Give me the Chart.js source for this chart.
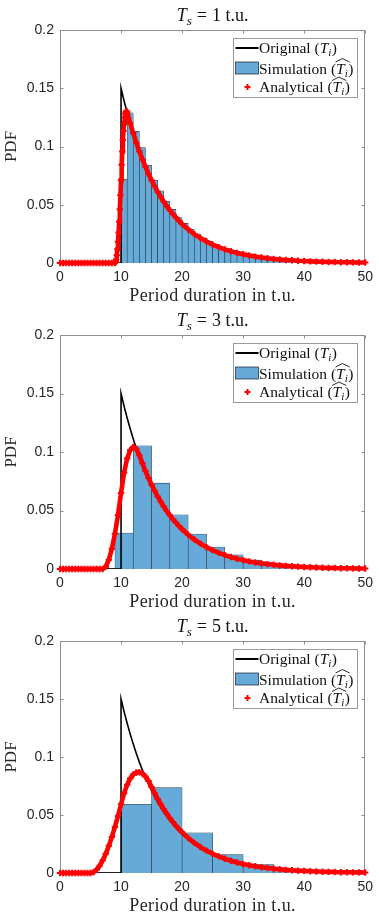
<!DOCTYPE html>
<html>
<head>
<meta charset="utf-8">
<script src="https://cdn.jsdelivr.net/npm/chart.js@4.4.1/dist/chart.umd.min.js"></script>
<style>
  html, body { margin: 0; padding: 0; background: #fff; }
  body { width: 379px; height: 919px; position: relative; overflow: hidden; }
  .panel { position: absolute; left: 0; width: 379px; }
</style>
</head>
<body>
<div class="panel" style="top:0;height:305px"><canvas id="c1"></canvas></div>
<div class="panel" style="top:305px;height:308px"><canvas id="c2"></canvas></div>
<div class="panel" style="top:613px;height:306px"><canvas id="c3"></canvas></div>

<script>
/* =========================
   Data
========================= */
const xTicks = [0, 10, 20, 30, 40, 50];
const yTicks = [0, 0.05, 0.1, 0.15, 0.2];
const yTickLabels = ["0", "0.05", "0.1", "0.15", "0.2"];
const samplingPeriods = [1, 3, 5];

// Original PDF (T_i)
const origX = [0, 10, 10, 10.5, 11, 11.5, 12, 12.5, 13, 13.5, 14, 15, 16, 17, 18, 19, 20, 22, 24, 26, 28, 30, 32, 35, 38, 41, 44, 47, 50];
const origY = [0, 0, 0.15, 0.1391, 0.1291, 0.1198, 0.1111, 0.1031, 0.0956, 0.0887, 0.0823, 0.0709, 0.0610, 0.0525, 0.0452, 0.0389, 0.0335, 0.0248, 0.0184, 0.0136, 0.0101, 0.0075, 0.0055, 0.0035, 0.0023, 0.0014, 0.0009, 0.0006, 0.0004];

// Ts = 1
const sim1Centers = [10.5, 11.5, 12.5, 13.5, 14.5, 15.5, 16.5, 17.5, 18.5, 19.5, 20.5, 21.5, 22.5, 23.5, 24.5, 25.5, 26.5, 27.5, 28.5, 29.5, 30.5, 31.5, 32.5, 33.5, 34.5, 35.5, 36.5, 37.5, 38.5, 39.5, 40.5, 41.5, 42.5, 43.5, 44.5, 45.5];
const sim1Heights = [0.072, 0.129, 0.113, 0.099, 0.084, 0.071, 0.062, 0.053, 0.046, 0.039, 0.034, 0.029, 0.025, 0.0215, 0.0185, 0.016, 0.0137, 0.0118, 0.0101, 0.0088, 0.0075, 0.0065, 0.0056, 0.0048, 0.0041, 0.0035, 0.0030, 0.0026, 0.0023, 0.0019, 0.0017, 0.0014, 0.0012, 0.0011, 0.0009, 0.0008];
const ana1X = [0, 0.5, 1, 1.5, 2, 2.5, 3, 3.5, 4, 4.5, 5, 5.5, 6, 6.5, 7, 7.5, 8, 8.5, 9,
  9.1, 9.2, 9.3, 9.4, 9.5, 9.6, 9.7, 9.8, 9.9, 10, 10.1, 10.2, 10.3, 10.4, 10.5, 10.6, 10.7, 10.8, 10.9, 11,
  11.5, 12, 12.5, 13, 13.5, 14, 14.5, 15, 15.5, 16, 16.5, 17, 17.5, 18, 18.5, 19, 19.5, 20,
  21, 22, 23, 24, 25, 26, 27, 28, 29, 30, 31, 32, 33, 34, 35, 36, 37, 38, 39, 40, 41, 42, 43, 44, 45, 46, 47, 48, 49, 50];
const ana1Y = [0, 0, 0, 0, 0, 0, 0, 0, 0, 0, 0, 0, 0, 0, 0, 0, 0, 0, 0,
  0.0008, 0.0030, 0.0067, 0.0118, 0.0183, 0.0262, 0.0355, 0.0461, 0.0581, 0.0713, 0.0844, 0.0958, 0.1055, 0.1136, 0.1200, 0.1249, 0.1283, 0.1300, 0.1303, 0.1294,
  0.1200, 0.1113, 0.1033, 0.0958, 0.0889, 0.0825, 0.0765, 0.0710, 0.0659, 0.0611, 0.0567, 0.0526, 0.0488, 0.0453, 0.0420, 0.0390, 0.0361, 0.0335,
  0.0289, 0.0248, 0.0214, 0.0184, 0.0158, 0.0136, 0.0117, 0.0101, 0.0087, 0.0075, 0.0064, 0.0055, 0.0048, 0.0041, 0.0035, 0.0030, 0.0026, 0.0023, 0.0019, 0.0017, 0.0014, 0.0012, 0.0011, 0.0009, 0.0008, 0.0007, 0.0006, 0.0005, 0.0004, 0.0004];

// Ts = 3
const sim2Centers = [10.5, 13.5, 16.5, 19.5, 22.5, 25.5, 28.5, 31.5, 34.5, 37.5, 40.5, 43.5, 46.5];
const sim2Heights = [0.0307, 0.1053, 0.0734, 0.0464, 0.0299, 0.0188, 0.0122, 0.0076, 0.0048, 0.0031, 0.0020, 0.0013, 0.0008];
const ana2X = [0, 0.5, 1, 1.5, 2, 2.5, 3, 3.5, 4, 4.5, 5, 5.5, 6, 6.5, 7,
  7.5, 8, 8.5, 9, 9.5, 10, 10.5, 11, 11.5, 12, 12.5, 13, 13.5, 14, 14.5, 15, 15.5, 16, 16.5, 17, 17.5, 18, 18.5, 19, 19.5, 20,
  21, 22, 23, 24, 25, 26, 27, 28, 29, 30, 31, 32, 33, 34, 35, 36, 37, 38, 39, 40, 41, 42, 43, 44, 45, 46, 47, 48, 49, 50];
const ana2Y = [0, 0, 0, 0, 0, 0, 0, 0, 0, 0, 0, 0, 0, 0, 0,
  0.0020, 0.0079, 0.0174, 0.0302, 0.0461, 0.0649, 0.0823, 0.0944, 0.1016, 0.1043, 0.1027, 0.0973, 0.0903, 0.0837, 0.0777, 0.0721, 0.0669, 0.0620, 0.0575, 0.0534, 0.0495, 0.0460, 0.0426, 0.0395, 0.0367, 0.0340,
  0.0293, 0.0252, 0.0217, 0.0187, 0.0161, 0.0138, 0.0119, 0.0103, 0.0088, 0.0076, 0.0065, 0.0056, 0.0048, 0.0042, 0.0036, 0.0031, 0.0027, 0.0023, 0.0020, 0.0017, 0.0015, 0.0013, 0.0011, 0.0009, 0.0008, 0.0007, 0.0006, 0.0005, 0.0004, 0.0004];

// Ts = 5
const sim3Centers = [12.5, 17.5, 22.5, 27.5, 32.5, 37.5, 42.5, 47.5];
const sim3Heights = [0.0593, 0.0736, 0.0347, 0.0158, 0.0072, 0.0034, 0.0016, 0.0007];
const ana3X = [0, 0.5, 1, 1.5, 2, 2.5, 3, 3.5, 4, 4.5, 5,
  5.5, 6, 6.5, 7, 7.5, 8, 8.5, 9, 9.5, 10, 10.5, 11, 11.5, 12, 12.5, 13, 13.5, 14, 14.5, 15, 15.5, 16, 16.5, 17, 17.5, 18, 18.5, 19, 19.5, 20,
  21, 22, 23, 24, 25, 26, 27, 28, 29, 30, 31, 32, 33, 34, 35, 36, 37, 38, 39, 40, 41, 42, 43, 44, 45, 46, 47, 48, 49, 50];
const ana3Y = [0, 0, 0, 0, 0, 0, 0, 0, 0, 0, 0,
  0.0007, 0.0029, 0.0063, 0.0109, 0.0166, 0.0234, 0.0311, 0.0397, 0.0491, 0.0593, 0.0687, 0.0760, 0.0814, 0.0849, 0.0867, 0.0869, 0.0857, 0.0831, 0.0793, 0.0742, 0.0689, 0.0639, 0.0593, 0.0550, 0.0510, 0.0473, 0.0439, 0.0407, 0.0378, 0.0351,
  0.0302, 0.0260, 0.0224, 0.0193, 0.0166, 0.0143, 0.0123, 0.0106, 0.0091, 0.0078, 0.0067, 0.0058, 0.0050, 0.0043, 0.0037, 0.0032, 0.0027, 0.0024, 0.0020, 0.0018, 0.0015, 0.0013, 0.0011, 0.0010, 0.0008, 0.0007, 0.0006, 0.0005, 0.0005, 0.0004];

/* =========================
   Styles
========================= */
const SERIF = '"Liberation Serif", "DejaVu Serif", serif';
const SANS = '"Liberation Sans", Arial, sans-serif';
const AXIS_COLOR = "#8e8e8e";
const TEXT_COLOR = "#262626";
const BAR_FILL = "rgb(102,170,215)";
const BAR_EDGE = "rgba(25,35,55,0.9)";
const RED = "#ff0000";

const toPoints = (xs, ys) => xs.map((x, i) => ({ x, y: ys[i] }));

// text built from parts (italic, subscript, hat)
function drawRich(ctx, parts, x, y, align) {
  let total = 0;
  parts.forEach(p => {
    ctx.font = p.font;
    p.w = ctx.measureText(p.t).width;
    total += p.w + (p.gap || 0);
  });
  let cx = align === "center" ? x - total / 2 : x;
  parts.forEach(p => {
    ctx.font = p.font;
    ctx.fillText(p.t, cx, y + (p.dy || 0));
    if (p.hat) {
      const top = y - 14.5;
      ctx.beginPath();
      ctx.moveTo(cx - 0.5, top + 3);
      ctx.lineTo(cx + p.w / 2 + 2, top - 0.5);
      ctx.lineTo(cx + p.w + 5, top + 3);
      ctx.lineWidth = 0.9;
      ctx.strokeStyle = ctx.fillStyle;
      ctx.stroke();
    }
    cx += p.w + (p.gap || 0);
  });
}

function mathLabel(word, hat) {
  return [
    { t: word + " (", font: `15.5px ${SERIF}` },
    { t: "T", font: `italic 15.5px ${SERIF}`, hat },
    { t: "i", font: `italic 11px ${SERIF}`, dy: 3, gap: 0.5 },
    { t: ")", font: `15.5px ${SERIF}` },
  ];
}

/* frame, inward ticks, labels, legend */
const decorPlugin = {
  id: "decor",
  beforeDatasetsDraw(chart) {
    const { ctx, chartArea: a, scales: { x, y } } = chart;
    ctx.save();
    ctx.strokeStyle = AXIS_COLOR;
    ctx.lineWidth = 1;
    const L = Math.round(a.left) + 0.5, R = Math.round(a.right) - 0.5;
    const T = Math.round(a.top) + 0.5, B = Math.round(a.bottom) - 0.5;
    ctx.strokeRect(L, T, R - L, B - T);
    ctx.beginPath();
    xTicks.forEach(v => {
      const px = Math.round(x.getPixelForValue(v)) + 0.5;
      ctx.moveTo(px, B); ctx.lineTo(px, B - 3);
      ctx.moveTo(px, T); ctx.lineTo(px, T + 3);
    });
    yTicks.forEach(v => {
      const py = Math.round(y.getPixelForValue(v)) + 0.5;
      ctx.moveTo(L, py); ctx.lineTo(L + 3, py);
      ctx.moveTo(R, py); ctx.lineTo(R - 3, py);
    });
    ctx.stroke();
    ctx.restore();
  },
  afterDatasetsDraw(chart) {
    const { ctx, chartArea: a } = chart;
    const bx = Math.round(a.right) - 131.5, by = Math.round(a.top) + 8.5;
    ctx.save();
    ctx.fillStyle = "#fff";
    ctx.fillRect(bx, by, 124, 59);
    ctx.strokeStyle = "#9a9a9a";
    ctx.lineWidth = 1;
    ctx.strokeRect(bx, by, 124, 59);

    const r1 = by + 9.5, r2 = by + 30, r3 = by + 48.5;
    ctx.beginPath();
    ctx.moveTo(bx + 2, r1); ctx.lineTo(bx + 25, r1);
    ctx.strokeStyle = "#000"; ctx.lineWidth = 2; ctx.stroke();
    ctx.fillStyle = BAR_FILL;
    ctx.fillRect(bx + 2, r2 - 6.5, 23, 12);
    ctx.strokeStyle = BAR_EDGE; ctx.lineWidth = 0.8;
    ctx.strokeRect(bx + 2, r2 - 6.5, 23, 12);
    ctx.beginPath();
    ctx.moveTo(bx + 11, r3); ctx.lineTo(bx + 17, r3);
    ctx.moveTo(bx + 14, r3 - 3); ctx.lineTo(bx + 14, r3 + 3);
    ctx.strokeStyle = RED; ctx.lineWidth = 2; ctx.stroke();

    ctx.fillStyle = "#111";
    ctx.textBaseline = "alphabetic";
    ctx.textAlign = "left";
    drawRich(ctx, mathLabel("Original", false), bx + 25.5, r1 + 5);
    drawRich(ctx, mathLabel("Simulation", true), bx + 25.5, r2 + 5);
    drawRich(ctx, mathLabel("Analytical", true), bx + 25.5, r3 + 5);
    ctx.restore();
  },
  afterDraw(chart, args, opts) {
    const { ctx, chartArea: a } = chart;
    ctx.save();
    ctx.fillStyle = "#111";
    ctx.textBaseline = "alphabetic";
    ctx.textAlign = "left";
    const cx = (a.left + a.right) / 2;
    drawRich(ctx, [
      { t: "T", font: `italic 18px ${SERIF}` },
      { t: "s", font: `italic 13px ${SERIF}`, dy: 3.5, gap: 5 },
      { t: "=", font: `18px ${SERIF}`, gap: 5 },
      { t: opts.ts + " t.u.", font: `18px ${SERIF}` },
    ], cx, a.top - 9, "center");

    ctx.font = `18px ${SERIF}`;
    ctx.letterSpacing = "0.4px";
    ctx.textAlign = "center";
    ctx.fillStyle = TEXT_COLOR;
    ctx.fillText("Period duration in t.u.", cx, a.bottom + 38);
    ctx.letterSpacing = "0px";

    ctx.font = `17px ${SERIF}`;
    ctx.translate(15.5, (a.top + a.bottom) / 2);
    ctx.rotate(-Math.PI / 2);
    ctx.fillText("PDF", 0, 0);
    ctx.restore();
  },
};

/* =========================
   Build one panel
========================= */
function buildPanel(id, ts, simCenters, simHeights, anaX, anaY, layout) {
  return new Chart(document.getElementById(id), {
    type: "bar",
    data: {
      datasets: [
        {
          type: "line",
          label: "Analytical",
          data: toPoints(anaX, anaY),
          borderColor: RED,
          backgroundColor: RED,
          borderWidth: 4.6,
          pointStyle: "cross",
          pointRadius: 3.2,
          pointBorderWidth: 2,
          pointBorderColor: RED,
          tension: 0,
          clip: false,
          order: 0,
        },
        {
          type: "line",
          label: "Original",
          data: toPoints(origX, origY),
          borderColor: "#000",
          borderWidth: 1.6,
          pointRadius: 0,
          tension: 0,
          order: 1,
        },
        {
          type: "bar",
          label: "Simulation",
          data: toPoints(simCenters, simHeights),
          backgroundColor: BAR_FILL,
          borderColor: BAR_EDGE,
          borderWidth: 0.6,
          barPercentage: 1,
          categoryPercentage: 1,
          order: 2,
        },
      ],
    },
    options: {
      responsive: true,
      maintainAspectRatio: false,
      animation: false,
      events: [],
      devicePixelRatio: 1,
      layout: { padding: { top: layout.top, right: 11, bottom: 0, left: 0 } },
      plugins: {
        legend: { display: false },
        tooltip: { enabled: false },
        decor: { ts },
      },
      scales: {
        x: {
          type: "linear",
          min: 0,
          max: 50,
          offset: false,
          grid: { display: false, drawTicks: false, offset: false },
          border: { display: false },
          afterBuildTicks: s => { s.ticks = xTicks.map(v => ({ value: v })); },
          afterFit: s => { s.height = layout.xh; },
          ticks: {
            padding: 6,
            maxRotation: 0,
            autoSkip: false,
            color: TEXT_COLOR,
            font: { family: SANS, size: 14 },
            callback: v => String(v),
          },
        },
        y: {
          type: "linear",
          min: 0,
          max: 0.2,
          grid: { display: false, drawTicks: false },
          border: { display: false },
          afterBuildTicks: s => { s.ticks = yTicks.map(v => ({ value: v })); },
          afterFit: s => { s.width = 60; },
          ticks: {
            padding: 6,
            color: TEXT_COLOR,
            font: { family: SANS, size: 14 },
            callback: (v, i) => yTickLabels[i],
          },
        },
      },
    },
    plugins: [decorPlugin],
  });
}

buildPanel("c1", samplingPeriods[0], sim1Centers, sim1Heights, ana1X, ana1Y, { top: 30, xh: 42 });
buildPanel("c2", samplingPeriods[1], sim2Centers, sim2Heights, ana2X, ana2Y, { top: 30, xh: 44 });
buildPanel("c3", samplingPeriods[2], sim3Centers, sim3Heights, ana3X, ana3Y, { top: 28, xh: 46 });
</script>
</body>
</html>
